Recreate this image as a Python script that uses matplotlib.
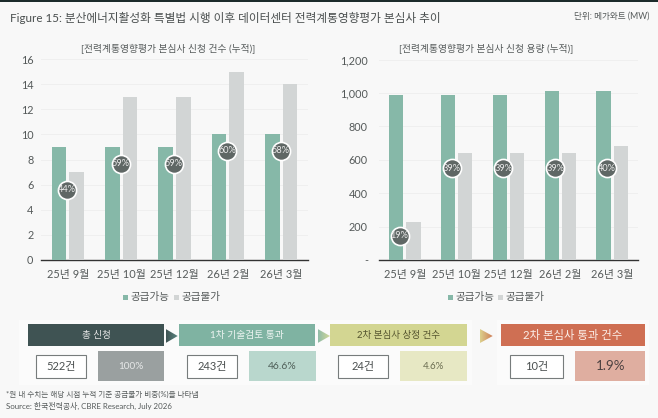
import matplotlib
matplotlib.use("Agg")
import matplotlib.pyplot as plt
import numpy as np
from matplotlib.colors import LinearSegmentedColormap
from matplotlib.patches import Rectangle, Polygon

plt.rcParams['font.family'] = ['Lato', 'Noto Sans CJK KR', 'DejaVu Sans']

W, H = 658, 418
months = ['25년 9월', '25년 10월', '25년 12월', '26년 2월', '26년 3월']
series_names = ['공급가능', '공급불가']

count_supply = [9, 9, 9, 10, 10]
count_nosupply = [7, 13, 13, 15, 14]
count_share = ['44%', '59%', '59%', '60%', '58%']
count_bubble_y = [5.6, 7.65, 7.65, 8.7, 8.7]

mw_supply = [990, 990, 990, 1010, 1010]
mw_nosupply = [230, 640, 640, 640, 680]
mw_share = ['19%', '39%', '39%', '39%', '40%']
mw_bubble_y = [145, 550, 550, 550, 550]

flow_titles = ['총 신청', '1차 기술검토 통과', '2차 본심사 상정 건수', '2차 본심사 통과 건수']
flow_counts = ['522건', '243건', '24건', '10건']
flow_shares = ['100%', '46.6%', '4.6%', '1.9%']

GREEN = '#86b8a8'
GREY = '#d2d5d5'
TXT = '#555a5a'

fig = plt.figure(figsize=(W / 100, H / 100), dpi=100, facecolor='#f8f8f8')
bg = fig.add_axes([0, 0, 1, 1])
bg.axis('off')


def px_axes(x0, x1, ytop, ybot):
    return fig.add_axes([x0 / W, 1 - ybot / H, (x1 - x0) / W, (ybot - ytop) / H])


def bar_panel(ax, s1, s2, labels, bub_y, ymax, step, title, title_cx, fmt, bub_dx, legend_x, ypad):
    ax.set_facecolor('none')
    xs = list(range(len(months)))
    ax.bar([x - 0.165 for x in xs], s1, 0.275, color=GREEN, zorder=3)
    ax.bar([x + 0.165 for x in xs], s2, 0.275, color=GREY, zorder=3)
    ax.scatter([x + bub_dx for x in xs], bub_y, s=170, color='#5f6765', edgecolor='white',
               linewidth=1.2, zorder=5, clip_on=False)
    for x, y, t in zip(xs, bub_y, labels):
        ax.text(x + bub_dx, y, t, color='#ececec', fontsize=6.6, ha='center', va='center', zorder=6)
    ax.set_xlim(-0.5, 4.5)
    ax.set_ylim(0, ymax)
    ticks = list(range(0, ymax + 1, step))
    ax.set_yticks(ticks)
    ax.set_yticklabels([fmt(t) for t in ticks], fontsize=7.8, color=TXT)
    ax.set_xticks(xs)
    ax.set_xticklabels(months, fontsize=7.9, color=TXT)
    ax.tick_params(axis='y', length=0, pad=ypad)
    ax.tick_params(axis='x', length=0, pad=6.5)
    ax.grid(axis='y', color='#efefef', lw=0.7, zorder=0)
    for k in ['top', 'left', 'right']:
        ax.spines[k].set_visible(False)
    ax.spines['bottom'].set_color('#333333')
    ax.spines['bottom'].set_linewidth(1.0)
    bg.text(title_cx, 48, title, ha='center', va='center', fontsize=7.0, color=TXT)
    for lx, c, name in zip(legend_x, [GREEN, GREY], series_names):
        bg.add_patch(Rectangle((lx, 294.5), 5, 5, color=c, lw=0))
        bg.text(lx + 7, 296.8, name, fontsize=7.6, color=TXT, va='center', ha='left')


ax1 = px_axes(41, 308, 59, 260)
bar_panel(ax1, count_supply, count_nosupply, count_share, count_bubble_y, 16, 2,
          '[전력계통영향평가 본심사 신청 건수 (누적)]', 167.7, lambda v: str(v), -0.01, (123, 174), 5.5)
ax2 = px_axes(379, 638, 59.5, 260)
bar_panel(ax2, mw_supply, mw_nosupply, mw_share, mw_bubble_y, 1200, 200,
          '[전력계통영향평가 본심사 신청 용량 (누적)]', 486,
          lambda v: '-' if v == 0 else f'{v:,}', -0.1, (448, 498), 8)

# header
bg.add_patch(Rectangle((0, 0), W, 2, color='#1c2b2b', lw=0))
bg.text(10, 17.5, 'Figure 15: 분산에너지활성화 특별법 시행 이후 데이터센터 전력계통영향평가 본심사 추이',
        fontsize=8.4, color='#4a4f4f', va='center')
bg.text(649, 16, '단위: 메가와트 (MW)', fontsize=6.2, color=TXT, va='center', ha='right')

# flow panels
bg.add_patch(Rectangle((19, 320), 453, 65, color='#fbfbfb', lw=0))
bg.add_patch(Rectangle((497, 320), 152, 65, color='#fbfbfb', lw=0))

head = [(27.7, 164.3, '#3f5353', '#e8e8e8', 6.9), (178.7, 315, '#7fb3a2', '#eef5f2', 7.0),
        (330, 466.7, '#d3d692', '#55552f', 6.9), (501, 645, '#cf6f53', '#fbeee8', 8.2)]
boxes = [(36.3, 85.7), (187.3, 236.7), (338.3, 387.7), (510.3, 562.7)]
share_boxes = [(97.7, 164, '#9aa0a0', '#e6e8e8', 7.2), (249.3, 315.7, '#b9d7cd', '#4f5f58', 7.5),
               (399.7, 466.7, '#e7e8c4', '#6a6c50', 7), (575.3, 645, '#dfaea0', '#4a4040', 9.6)]
arrows = [(165.7, 177.7, '#3f5353', '#5a8580'), (317.7, 330, '#8fbca8', '#d8da98'),
          (480, 492.7, '#dcd08c', '#cf7d58')]

for i in range(4):
    x0, x1, c, tc, fs = head[i]
    bg.add_patch(Rectangle((x0, 324.3), x1 - x0, 21.7, color=c, lw=0))
    bg.text((x0 + x1) / 2, 335.3, flow_titles[i], color=tc, ha='center', va='center', fontsize=fs)
    b0, b1 = boxes[i]
    bg.add_patch(Rectangle((b0, 355.3), b1 - b0, 22.4, facecolor='white', edgecolor='#777c7c', lw=0.8))
    bg.text((b0 + b1) / 2, 366.3, flow_counts[i], color='#4a4f4f', ha='center', va='center',
            fontsize=8)
    s0, s1, sc, stc, sfs = share_boxes[i]
    bg.add_patch(Rectangle((s0, 351.3), s1 - s0, 29.7, color=sc, lw=0))
    bg.text((s0 + s1) / 2, 366.3, flow_shares[i], color=stc, ha='center', va='center', fontsize=sfs)

ramp = np.linspace(0, 1, 64).reshape(1, -1)
for a0, a1, c0, c1 in arrows:
    cmap = LinearSegmentedColormap.from_list('arrow', [c0, c1])
    im = bg.imshow(ramp, extent=(a0, a1, 343, 329), cmap=cmap, aspect='auto', zorder=2)
    tri = Polygon([(a0, 329), (a1, 336), (a0, 343)], closed=True, transform=bg.transData,
                  facecolor='none', edgecolor='none')
    bg.add_patch(tri)
    im.set_clip_path(tri)

# footnotes
bg.text(6.5, 394.5, '*원 내 수치는 해당 시점 누적 기준 공급불가 비중(%)을 나타냄', fontsize=5.5, color=TXT, va='center')
bg.text(6.5, 406, 'Source: 한국전력공사, CBRE Research, July 2026', fontsize=5.7, color=TXT, va='center')

bg.set_xlim(0, W)
bg.set_ylim(H, 0)
fig.savefig('out.png', dpi=100, facecolor=fig.get_facecolor())
